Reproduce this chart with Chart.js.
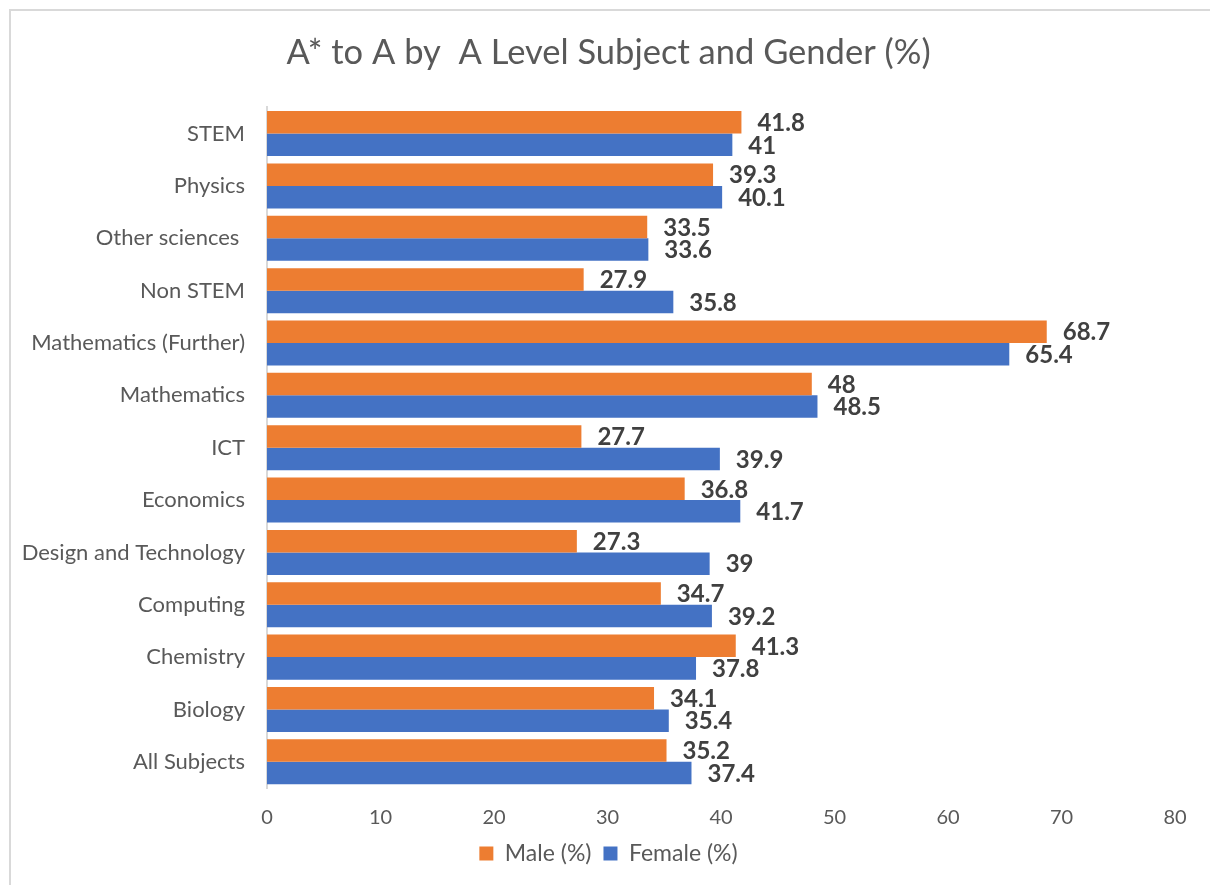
<!DOCTYPE html>
<html>
<head>
<meta charset="utf-8">
<script src="https://cdn.jsdelivr.net/npm/chart.js@4"></script>
<style>
  html, body { margin: 0; padding: 0; background: #fff; }
  #wrap { position: relative; width: 1210px; height: 885px; overflow: hidden; }
  #frame { position: absolute; left: 9px; top: 9px; width: 1300px; height: 1000px;
           border-left: 2px solid #d9d9d9; border-top: 2px solid #d9d9d9; }
  #box { position: absolute; left: 0; top: 0; width: 1210px; height: 885px; }
</style>
</head>
<body>
<div id="wrap">
  <div id="frame"></div>
  <div id="box"><canvas id="chart"></canvas></div>
</div>
<script>
const categories = ['STEM', 'Physics', 'Other sciences ', 'Non STEM', 'Mathematics (Further)',
  'Mathematics', 'ICT', 'Economics', 'Design and Technology', 'Computing', 'Chemistry',
  'Biology', 'All Subjects'];
const maleValues = [41.8, 39.3, 33.5, 27.9, 68.7, 48, 27.7, 36.8, 27.3, 34.7, 41.3, 34.1, 35.2];
const femaleValues = [41, 40.1, 33.6, 35.8, 65.4, 48.5, 39.9, 41.7, 39, 39.2, 37.8, 35.4, 37.4];

const grey = '#595959';

// value labels at the end of each bar
const valueLabels = {
  id: 'valueLabels',
  afterLayout(chart) {
    // let the long category names run left of the padding without being clipped
    chart.scales.y.left = 0;
  },
  afterDatasetsDraw(chart) {
    const ctx = chart.ctx;
    ctx.save();
    ctx.font = 'bold 24px Lato';
    ctx.fillStyle = '#404040';
    ctx.textAlign = 'left';
    ctx.textBaseline = 'middle';
    chart.data.datasets.forEach((ds, i) => {
      chart.getDatasetMeta(i).data.forEach((bar, j) => {
        ctx.fillText(String(ds.data[j]), bar.x + 16, bar.y + 1);
      });
    });
    ctx.restore();
  }
};

new Chart(document.getElementById('chart'), {
  type: 'bar',
  data: {
    labels: categories,
    datasets: [
      { label: 'Male (%)', data: maleValues, backgroundColor: '#ED7D31' },
      { label: 'Female (%)', data: femaleValues, backgroundColor: '#4472C4' }
    ]
  },
  options: {
    indexAxis: 'y',
    responsive: true,
    maintainAspectRatio: false,
    animation: false,
    datasets: { bar: { categoryPercentage: 0.86, barPercentage: 1 } },
    layout: { padding: { top: 10, right: 35, bottom: 10, left: 42 } },
    scales: {
      x: {
        min: 0, max: 80,
        ticks: { stepSize: 10, color: grey, font: { family: 'Lato', size: 20 }, padding: 18 },
        grid: { display: false, drawTicks: false },
        border: { display: false },
        afterFit(scale) { scale.height = 42; }
      },
      y: {
        ticks: { color: grey, font: { family: 'Lato', size: 22 }, padding: 22 },
        grid: { display: false, drawTicks: false },
        border: { display: true, color: '#d9d9d9', width: 2 },
        afterFit(scale) { scale.width = 225; }
      }
    },
    plugins: {
      title: {
        display: true,
        text: 'A* to A by  A Level Subject and Gender (%)',
        color: grey,
        font: { family: 'Lato', size: 34.5, weight: 'normal' },
        padding: { top: 22, bottom: 34 }
      },
      legend: {
        position: 'bottom',
        labels: { color: grey, font: { family: 'Lato', size: 23 }, boxWidth: 14, boxHeight: 14, padding: 12 }
      },
      tooltip: { enabled: false }
    }
  },
  plugins: [valueLabels]
});
</script>
</body>
</html>
